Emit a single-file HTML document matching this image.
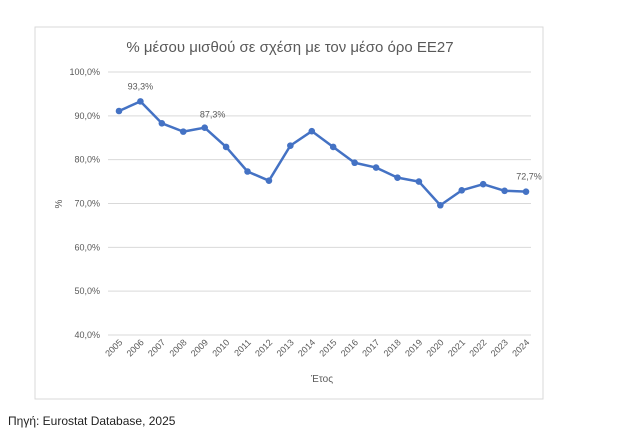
<!DOCTYPE html>
<html><head><meta charset="utf-8"><style>
body{margin:0;background:#fff;width:624px;height:443px;overflow:hidden;font-family:"Liberation Sans","DejaVu Sans",sans-serif}
svg{position:absolute;left:0;top:0}
</style></head><body>
<svg width="624" height="443">
<rect x="35" y="27" width="508" height="372" fill="#fff" stroke="#d9d9d9"/>
<text x="290" y="52" text-anchor="middle" font-size="15" fill="#595959">% μέσου μισθού σε σχέση με τον μέσο όρο ΕΕ27</text>
<g id="grid"></g><g id="ylab"></g><g id="xlab"></g><g id="series"></g>
<text x="322" y="382" text-anchor="middle" font-size="10" fill="#595959">Έτος</text>
<text transform="translate(62,204) rotate(-90)" text-anchor="middle" font-size="10" fill="#595959">%</text>
<text x="8" y="425" font-size="12" fill="#222">Πηγή: Eurostat Database, 2025</text>
</svg>
<script>
const years=[2005,2006,2007,2008,2009,2010,2011,2012,2013,2014,2015,2016,2017,2018,2019,2020,2021,2022,2023,2024];
const values=[91.1,93.3,88.3,86.4,87.3,82.9,77.3,75.2,83.2,86.5,82.9,79.3,78.2,75.9,75.0,69.6,73.0,74.4,72.9,72.7];
const yTicks=[40,50,60,70,80,90,100];
const labeled=[1,4,19];
const NS="http://www.w3.org/2000/svg";
const x=i=>119+i*(526-119)/(years.length-1);
const y=v=>335-(v-40)*(335-72)/60;
function mk(t,a,p){const e=document.createElementNS(NS,t);for(const k in a)e.setAttribute(k,a[k]);p.appendChild(e);return e;}
const g=document.getElementById('grid'),yl=document.getElementById('ylab'),xl=document.getElementById('xlab'),s=document.getElementById('series');
yTicks.forEach(v=>{
 const l=mk('line',{x1:108,x2:531,y1:y(v),y2:y(v),stroke:'#d9d9d9','stroke-width':1},g);
 
 
 const t=mk('text',{x:100,y:y(v)+3,'text-anchor':'end','font-size':9,fill:'#595959'},yl);
 t.textContent=v.toFixed(1).replace('.',',')+'%';
 
 
});
years.forEach((yr,i)=>{
 const t=mk('text',{transform:`translate(${x(i)+4},${343}) rotate(-45)`,'text-anchor':'end','font-size':9,fill:'#595959'},xl);
 t.textContent=yr;
 
 
});
const pl=mk('polyline',{points:values.map((v,i)=>x(i)+','+y(v)).join(' '),fill:'none',stroke:'#4472c4','stroke-width':2.5,'stroke-linejoin':'round'},s);


values.forEach((v,i)=>{
 const c=mk('circle',{cx:x(i),cy:y(v),r:3.3,fill:'#4472c4'},s);
 
 
});
labeled.forEach(i=>{
 const t=mk('text',{x:x(i)+(i===4?8:i===19?3:0),y:y(values[i])-(i===4?10:i===19?12:12),'text-anchor':'middle','font-size':9,fill:'#595959'},s);
 t.textContent=values[i].toFixed(1).replace('.',',')+'%';
 
 
});
</script>
</body></html>
